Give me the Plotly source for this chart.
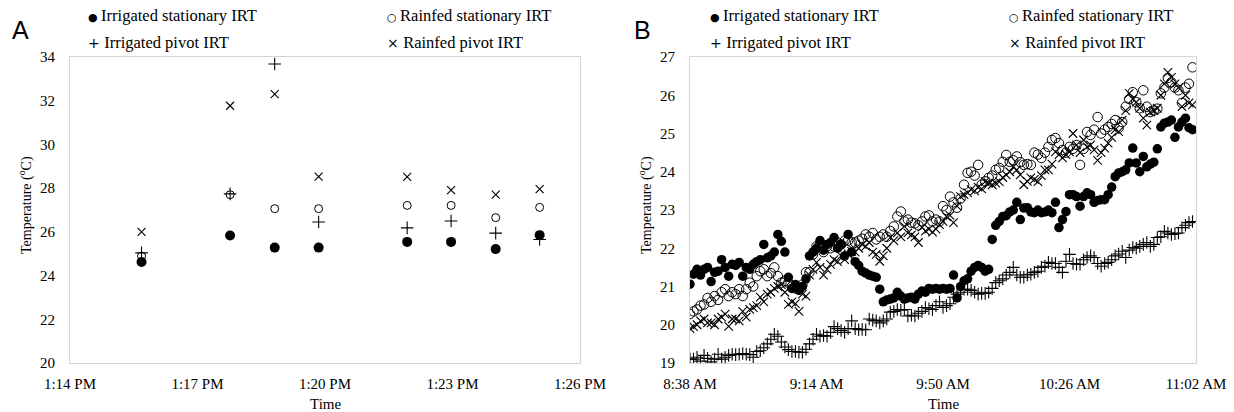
import plotly.graph_objects as go
import pandas as pd

# ---------------- Panel A data ----------------
times_a = ["2019-07-01 13:15:41", "2019-07-01 13:17:46", "2019-07-01 13:18:49", "2019-07-01 13:19:51",
           "2019-07-01 13:21:56", "2019-07-01 13:22:58", "2019-07-01 13:24:01", "2019-07-01 13:25:03"]
a_irr_stat = [24.62, 25.83, 25.28, 25.28, 25.54, 25.54, 25.21, 25.85]
a_rain_stat = [24.89, 27.70, 27.06, 27.06, 27.21, 27.21, 26.65, 27.12]
a_irr_piv = [25.04, 27.74, 33.68, 26.45, 26.18, 26.50, 25.94, 25.65]
a_rain_piv = [26.00, 31.77, 32.30, 28.53, 28.52, 27.91, 27.70, 27.96]
a_tickvals = ["2019-07-01 13:14", "2019-07-01 13:17", "2019-07-01 13:20", "2019-07-01 13:23", "2019-07-01 13:26"]
a_ticktext = ["1:14 PM", "1:17 PM", "1:20 PM", "1:23 PM", "1:26 PM"]

# ---------------- Panel B data (one reading per minute from 8:38 AM) ----------------
b_start = "2019-07-01 08:38"
b_irr_stat = [21.06, 21.32, 21.45, 21.30, 21.45, 21.50, 21.13, 21.37, 21.40, 21.70,
              21.50, 21.27, 21.58, 21.55, 21.63, 21.27, 21.50, 21.45, 21.58, 21.65,
              21.70, 22.10, 21.75, 21.80, 21.90, 22.36, 22.18, 21.90, 21.24, 20.95,
              21.05, 20.90, 21.00, 21.20, 21.80, 21.90, 22.00, 22.20, 21.95, 22.10,
              22.15, 22.28, 22.00, 22.10, 21.80, 22.36, 21.90, 21.65, 21.55, 21.40,
              21.35, 21.30, 21.27, 21.24, 20.93, 20.60, 20.65, 20.67, 20.70, 20.85,
              20.75, 20.67, 20.70, 20.72, 20.67, 20.80, 20.88, 20.85, 20.95, 20.93,
              20.95, 20.93, 20.95, 20.93, 20.95, 21.30, 20.70, 21.00, 21.15, 21.20,
              21.40, 21.50, 21.55, 21.50, 21.40, 21.45, 22.23, 22.60, 22.70, 22.83,
              22.85, 22.95, 23.00, 23.20, 22.75, 23.05, 23.06, 22.95, 22.93, 23.00,
              22.93, 22.95, 23.00, 22.93, 23.20, 22.54, 22.75, 22.96, 23.40, 23.40,
              23.35, 23.10, 23.35, 23.45, 23.40, 23.20, 23.25, 23.27, 23.27, 23.40,
              23.60, 23.87, 23.97, 24.00, 24.05, 24.23, 24.62, 24.23, 24.00, 24.40,
              24.13, 24.20, 24.25, 24.60, 25.17, 25.27, 25.30, 25.35, 24.90, 25.17,
              25.30, 25.40, 25.15, 25.10]
b_irr_piv = [19.10, 19.10, 19.15, 19.05, 19.20, 19.12, 19.03, 19.10, 19.23, 19.10,
             19.15, 19.20, 19.23, 19.22, 19.23, 19.25, 19.23, 19.22, 19.15, 19.30,
             19.32, 19.40, 19.50, 19.62, 19.75, 19.70, 19.55, 19.42, 19.35, 19.30,
             19.30, 19.28, 19.28, 19.36, 19.50, 19.62, 19.75, 19.70, 19.72, 19.70,
             19.80, 19.95, 19.90, 19.85, 19.80, 19.90, 20.10, 19.90, 19.87, 19.88,
             19.87, 20.15, 20.12, 20.10, 20.05, 20.10, 20.15, 20.33, 20.35, 20.40,
             20.38, 20.40, 20.23, 20.25, 20.23, 20.30, 20.35, 20.45, 20.42, 20.40,
             20.50, 20.60, 20.45, 20.50, 20.55, 20.72, 20.80, 20.85, 20.93, 20.93,
             20.90, 20.85, 20.80, 20.82, 20.82, 20.85, 20.95, 21.10, 21.15, 21.20,
             21.30, 21.37, 21.50, 21.30, 21.24, 21.24, 21.30, 21.32, 21.37, 21.40,
             21.50, 21.53, 21.63, 21.60, 21.60, 21.50, 21.37, 21.66, 21.84, 21.60,
             21.58, 21.58, 21.70, 21.76, 21.80, 21.76, 21.60, 21.53, 21.60, 21.63,
             21.70, 21.80, 21.85, 21.92, 21.76, 21.95, 22.02, 22.00, 22.05, 22.10,
             22.15, 22.05, 22.10, 22.28, 22.30, 22.44, 22.40, 22.36, 22.38, 22.40,
             22.54, 22.60, 22.67, 22.70]
b_rain_stat = [20.28, 20.35, 20.40, 20.50, 20.53, 20.70, 20.60, 20.75, 20.65, 20.85,
               20.93, 20.75, 20.85, 20.80, 20.93, 20.75, 20.93, 21.10, 21.00, 21.27,
               21.40, 21.45, 21.27, 21.35, 21.50, 21.27, 21.10, 21.15, 21.10, 21.00,
               20.95, 20.93, 21.05, 21.37, 21.37, 21.84, 22.05, 22.10, 21.90, 22.05,
               22.00, 22.05, 22.15, 22.10, 22.20, 22.20, 22.15, 22.15, 22.20, 22.25,
               22.36, 22.30, 22.40, 22.23, 22.30, 22.36, 22.30, 22.45, 22.57, 22.83,
               22.96, 22.70, 22.75, 22.67, 22.65, 22.60, 22.70, 22.83, 22.86, 22.70,
               22.75, 22.70, 23.10, 23.00, 23.35, 23.20, 23.06, 23.30, 23.66, 23.97,
               24.00, 23.90, 24.18, 23.66, 23.75, 23.84, 23.90, 24.05, 24.10, 24.26,
               24.44, 24.26, 24.30, 24.40, 24.25, 24.18, 24.20, 24.18, 24.50, 24.45,
               24.36, 24.50, 24.65, 24.83, 24.88, 24.75, 24.57, 24.50, 24.65, 24.60,
               24.70, 24.18, 24.60, 25.04, 24.96, 25.10, 25.43, 25.00, 25.10, 25.17,
               25.25, 25.35, 25.15, 25.30, 25.70, 25.90, 26.08, 25.82, 25.66, 26.13,
               25.70, 25.56, 25.60, 25.65, 26.05, 26.20, 26.45, 26.34, 26.20, 26.13,
               25.80, 26.20, 26.30, 26.73]
b_rain_piv = [19.90, 19.95, 20.00, 20.10, 20.15, 20.05, 20.05, 20.00, 20.15, 20.20,
              20.28, 19.96, 20.15, 20.15, 20.10, 20.35, 20.20, 20.40, 20.45, 20.50,
              20.72, 20.60, 20.80, 20.85, 20.95, 21.00, 21.05, 20.85, 20.53, 20.60,
              20.55, 20.35, 20.80, 20.75, 21.30, 21.45, 21.63, 21.50, 21.30, 21.45,
              21.58, 21.70, 21.65, 21.80, 21.70, 21.85, 21.92, 21.90, 22.00, 22.10,
              22.05, 22.15, 21.90, 21.84, 21.66, 21.80, 22.00, 22.28, 22.20, 22.40,
              22.30, 22.57, 22.40, 22.35, 22.30, 22.15, 22.55, 22.45, 22.50, 22.42,
              22.50, 22.62, 22.70, 22.83, 22.86, 22.67, 23.10, 23.35, 23.40, 23.45,
              23.53, 23.50, 23.60, 23.55, 23.74, 23.70, 23.66, 23.70, 23.74, 23.85,
              23.92, 24.00, 24.13, 24.05, 23.92, 23.66, 23.75, 23.84, 23.80, 23.74,
              23.90, 24.05, 24.05, 24.20, 24.52, 24.45, 24.36, 24.45, 24.52, 25.00,
              24.70, 24.50, 24.83, 24.65, 24.70, 24.57, 24.30, 24.50, 24.62, 24.75,
              24.90, 25.10, 25.05, 25.35, 25.60, 26.05, 25.90, 25.82, 25.66, 25.40,
              25.22, 25.56, 25.60, 25.66, 26.00, 26.30, 26.60, 26.47, 26.30, 26.20,
              25.70, 26.00, 25.80, 25.75]
b_tickvals = ["2019-07-01 08:38", "2019-07-01 09:14", "2019-07-01 09:50", "2019-07-01 10:26", "2019-07-01 11:02"]
b_ticktext = ["8:38 AM", "9:14 AM", "9:50 AM", "10:26 AM", "11:02 AM"]

series_names = ["Irrigated stationary IRT", "Rainfed stationary IRT", "Irrigated pivot IRT", "Rainfed pivot IRT"]

times_b = pd.date_range(b_start, periods=len(b_irr_stat), freq="min")

SERIF = "Liberation Serif"
W, H = 1234, 412

def px_x(p):
    return p / W

def px_y(p):
    return 1 - p / H

styles_a = [
    dict(symbol="circle", color="black", size=10, line=dict(width=0)),
    dict(symbol="circle-open", color="black", size=8, line=dict(width=1, color="black")),
    dict(symbol="cross-thin-open", color="black", size=9, line=dict(width=1.1, color="black")),
    dict(symbol="x-thin-open", color="black", size=8, line=dict(width=1.1, color="black")),
]
styles_b = [
    dict(symbol="circle", color="black", size=9.5, line=dict(width=0)),
    dict(symbol="circle-open", color="black", size=9.5, line=dict(width=1, color="black")),
    dict(symbol="cross-thin-open", color="black", size=9, line=dict(width=1.1, color="black")),
    dict(symbol="x-thin-open", color="black", size=8.5, line=dict(width=1.1, color="black")),
]

fig = go.Figure()
for vals, st, nm in zip([a_irr_stat, a_rain_stat, a_irr_piv, a_rain_piv], styles_a, series_names):
    fig.add_trace(go.Scatter(x=times_a, y=vals, mode="markers", marker=st, name=nm,
                             xaxis="x", yaxis="y", showlegend=False))
for vals, st, nm in zip([b_irr_stat, b_rain_stat, b_irr_piv, b_rain_piv], styles_b, series_names):
    fig.add_trace(go.Scatter(x=times_b, y=vals, mode="markers", marker=st, name=nm,
                             xaxis="x2", yaxis="y2", showlegend=False))

axis_common = dict(showline=True, mirror=True, linecolor="#d4d4d4", linewidth=1,
                   showgrid=False, zeroline=False, ticks="outside", automargin=False,
                   tickcolor="rgba(0,0,0,0)", tickfont=dict(family=SERIF, size=15, color="black"))

ydom = [px_y(363), px_y(57)]
fig.update_layout(
    width=W, height=H, margin=dict(l=0, r=0, t=0, b=0, autoexpand=False),
    paper_bgcolor="white", plot_bgcolor="white",
    xaxis=dict(axis_common, domain=[px_x(70), px_x(580)], type="date",
               range=[a_tickvals[0], a_tickvals[-1]], tickvals=a_tickvals, ticktext=a_ticktext,
               ticklen=7, anchor="y"),
    yaxis=dict(axis_common, domain=ydom, range=[20, 34], dtick=2, tick0=20, ticklen=11, anchor="x"),
    xaxis2=dict(axis_common, domain=[px_x(690), px_x(1196)], type="date",
                range=[b_tickvals[0], b_tickvals[-1]], tickvals=b_tickvals, ticktext=b_ticktext,
                ticklen=7, anchor="y2"),
    yaxis2=dict(axis_common, domain=ydom, range=[19, 27], dtick=1, tick0=19, ticklen=11, anchor="x2"),
)

annotations = []
# Axis titles
for cx, title_x in [(325, 25), (943, 645)]:
    annotations.append(dict(text="Time", x=px_x(cx), y=px_y(404), xref="paper", yref="paper",
                            showarrow=False, font=dict(family=SERIF, size=15, color="black"),
                            xanchor="center", yanchor="middle"))
    annotations.append(dict(text="Temperature (<sup>o</sup>C)", x=px_x(title_x), y=px_y(205),
                            xref="paper", yref="paper", showarrow=False, textangle=-90,
                            font=dict(family=SERIF, size=14, color="black"),
                            xanchor="center", yanchor="middle"))

# Legend rows (text labels with symbol glyphs)
sym = ["\u25CF", "\u25CB", "+", "\u00D7"]
sym_size = [11, 11, 14, 14]
for off, letter in [(0, "A"), (622, "B")]:
    annotations.append(dict(text=letter, x=px_x(off + 10), y=px_y(30), xref="paper", yref="paper",
                            showarrow=False, xanchor="left", yanchor="middle",
                            font=dict(family="Liberation Sans", size=25, color="black")))
    pos = [(off + 86, 16), (off + 385, 16), (off + 86, 43), (off + 385, 43)]
    for (lx, ly), s, ss, nm in zip(pos, sym, sym_size, series_names):
        annotations.append(dict(
            text=f'<span style="font-family:DejaVu Sans;font-size:{ss}px">{s} </span>{nm}',
            x=px_x(lx), y=px_y(ly), xref="paper", yref="paper", showarrow=False,
            xanchor="left", yanchor="middle", font=dict(family=SERIF, size=16.5, color="black")))

fig.update_layout(annotations=annotations)
fig.write_html("out.html")
